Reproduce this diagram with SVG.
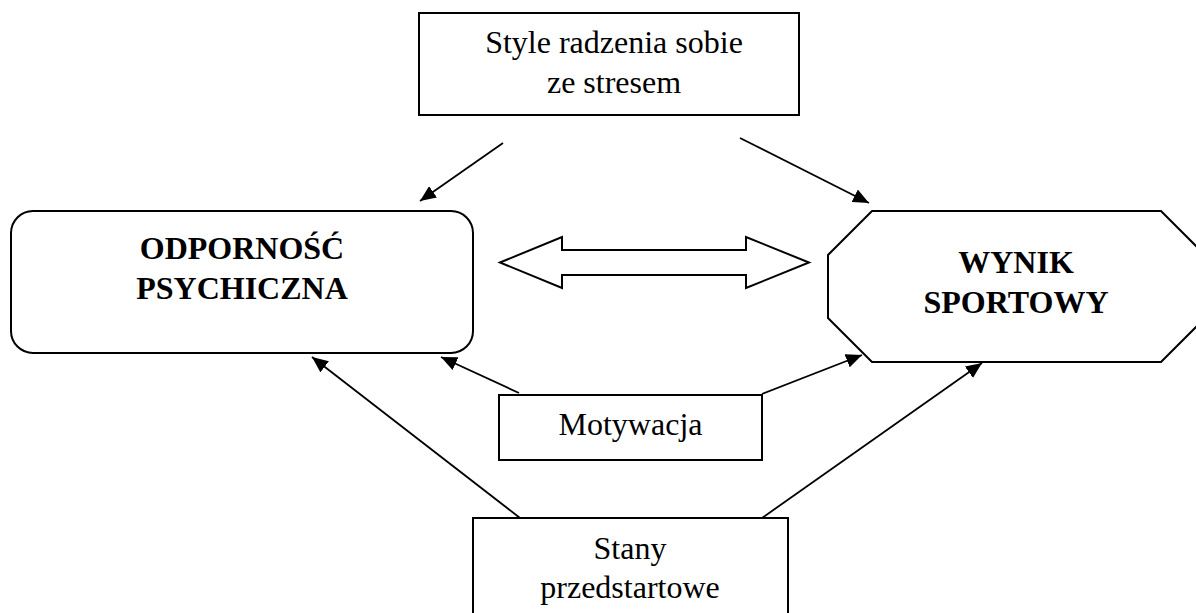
<svg xmlns="http://www.w3.org/2000/svg" width="1196" height="613" viewBox="0 0 1196 613">
  <style>
    .box { fill: #ffffff; stroke: #000000; stroke-width: 2; }
    .edge { fill: none; stroke: #000000; stroke-width: 1.8; }
    .txt { font-family: "Liberation Serif", "Times New Roman", serif; font-size: 32px; fill: #000000; text-anchor: middle; }
    .bold { font-weight: bold; }
  </style>
  <defs>
    <marker id="head" markerUnits="userSpaceOnUse" markerWidth="16" markerHeight="14" refX="16" refY="7" orient="auto">
      <path d="M0,0 L16,7 L0,14 Z" fill="#000000"/>
    </marker>
  </defs>
  <rect width="1196" height="613" fill="#ffffff"/>

  <g id="connectors">
    <line class="edge" x1="503" y1="143" x2="420" y2="201" marker-end="url(#head)"/>
    <line class="edge" x1="740" y1="138" x2="869" y2="203" marker-end="url(#head)"/>
    <line class="edge" x1="519" y1="393" x2="441" y2="357" marker-end="url(#head)"/>
    <line class="edge" x1="762" y1="394" x2="862" y2="355" marker-end="url(#head)"/>
    <line class="edge" x1="520" y1="518" x2="312" y2="357" marker-end="url(#head)"/>
    <line class="edge" x1="762" y1="518" x2="982" y2="363" marker-end="url(#head)"/>
    <!-- two-way block arrow between the main nodes -->
    <polygon class="box" points="500,262.5 562,237 562,250 746,250 746,237 809,262.5 746,288 746,275 562,275 562,288"/>
  </g>

  <g id="node-style">
    <rect class="box" x="419" y="13" width="380" height="102"/>
    <text class="txt" x="614" y="53">Style radzenia sobie</text>
    <text class="txt" x="614" y="93">ze stresem</text>
  </g>

  <g id="node-odpornosc">
    <rect class="box" x="11" y="211" width="462" height="142" rx="22" ry="22"/>
    <text class="txt bold" x="242" y="259">ODPORNOŚĆ</text>
    <text class="txt bold" x="242" y="299">PSYCHICZNA</text>
  </g>

  <g id="node-wynik">
    <polygon class="box" points="872,211 1161,211 1205,255 1205,318 1161,362 872,362 828,318 828,255"/>
    <text class="txt bold" x="1016" y="273">WYNIK</text>
    <text class="txt bold" x="1016" y="313">SPORTOWY</text>
  </g>

  <g id="node-motywacja">
    <rect class="box" x="499" y="395" width="263" height="65"/>
    <text class="txt" x="630.5" y="435">Motywacja</text>
  </g>

  <g id="node-stany">
    <rect class="box" x="473" y="518" width="315" height="110"/>
    <text class="txt" x="630" y="559">Stany</text>
    <text class="txt" x="630" y="598">przedstartowe</text>
  </g>
</svg>
